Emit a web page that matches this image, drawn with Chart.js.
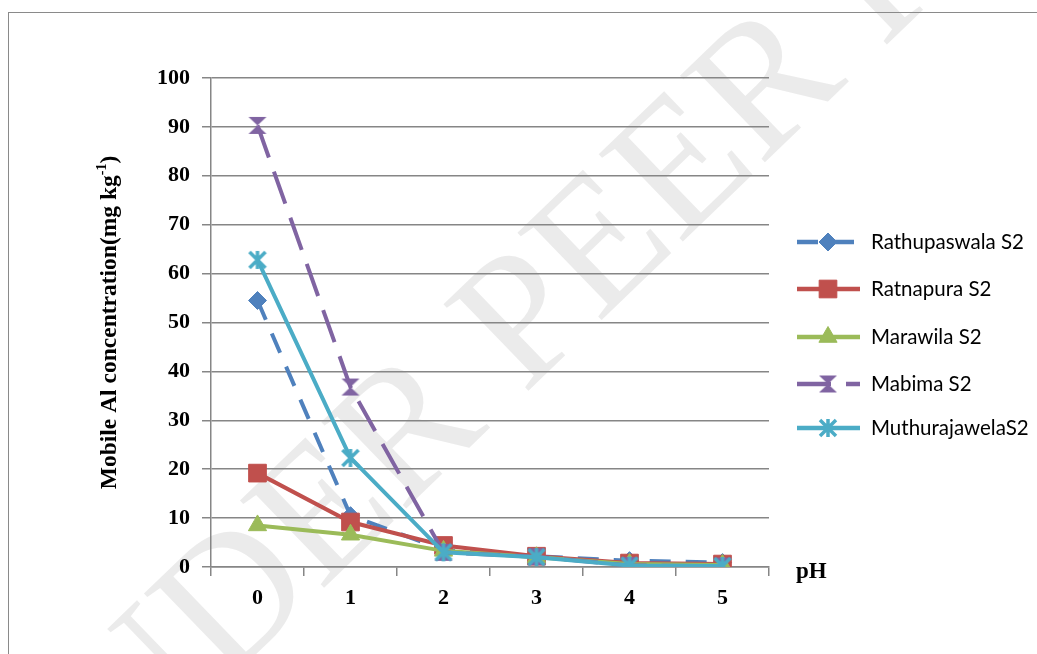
<!DOCTYPE html>
<html><head><meta charset="utf-8">
<script src="https://cdn.jsdelivr.net/npm/chart.js@4/dist/chart.umd.min.js"></script>
<style>
html,body{margin:0;padding:0;background:#fff;overflow:hidden;width:1037px;height:654px;}
#wrap{position:absolute;left:0;top:0;width:1037px;height:654px;}
#frame{position:absolute;left:8px;top:12px;width:1100px;height:700px;border:1.5px solid #8a8a8a;pointer-events:none;z-index:2;}
</style></head><body>
<div id="wrap"><canvas id="c" width="1037" height="654"></canvas></div>
<div id="frame"></div>
<script>
// ---- data ----
const categories = ['0', '1', '2', '3', '4', '5'];
const seriesNames = ['Rathupaswala S2', 'Ratnapura S2', 'Marawila S2', 'Mabima S2', 'MuthurajawelaS2'];
const rathupaswala = [54.5, 10.5, 3.5, 2.2, 1.3, 0.9];
const ratnapura = [19.2, 9.2, 4.4, 2.2, 0.8, 0.6];
const marawila = [8.5, 6.6, 3.3, 2.0, 0.6, 0.4];
const mabima = [90.3, 36.8, 3.0, 2.1, 0.3, 0.2];
const muthurajawela = [62.8, 22.3, 3.0, 2.0, 0.3, 0.2];
const yMin = 0, yMax = 100, yStep = 10;
const yTitle = 'Mobile Al concentration(mg kg';
const yTitleSup = '-1';
const yTitleEnd = ')';
const xTitle = 'pH';
const watermark = 'UNDER PEER REVIEW';

const COLORS = ['#4F81BD', '#C0504D', '#9BBB59', '#8064A2', '#4BACC6'];

function makeHourglass(color) {
  const c = document.createElement('canvas'); c.width = 20; c.height = 19;
  const g = c.getContext('2d'); g.fillStyle = color;
  g.beginPath(); g.moveTo(1, 1); g.lineTo(19, 1); g.lineTo(10, 9.5); g.closePath(); g.fill();
  g.beginPath(); g.moveTo(1, 18); g.lineTo(19, 18); g.lineTo(10, 9.5); g.closePath(); g.fill();
  return c;
}
function makeAsterisk(color) {
  const c = document.createElement('canvas'); c.width = 20; c.height = 20;
  const g = c.getContext('2d'); g.strokeStyle = color; g.lineWidth = 3.5; g.lineCap = 'butt';
  g.beginPath(); g.moveTo(2, 2); g.lineTo(18, 18); g.moveTo(18, 2); g.lineTo(2, 18);
  g.moveTo(10, 1); g.lineTo(10, 19); g.stroke();
  return c;
}
const hourglass = makeHourglass(COLORS[3]);
const asterisk = makeAsterisk(COLORS[4]);

const seriesData = [rathupaswala, ratnapura, marawila, mabima, muthurajawela];
const styles = [
  { dash: [21, 15], point: 'rectRot', r: 9 },
  { dash: [], point: 'rect', r: 12.5 },
  { dash: [], point: 'triangle', r: 10.5 },
  { dash: [34, 15], point: hourglass, r: 10 },
  { dash: [], point: asterisk, r: 10 }
];

const datasets = seriesNames.map((name, i) => ({
  label: name,
  data: seriesData[i],
  borderColor: COLORS[i],
  backgroundColor: COLORS[i],
  borderWidth: 4,
  borderDash: styles[i].dash,
  pointStyle: styles[i].point,
  pointRadius: styles[i].r,
  pointBorderWidth: 1,
  pointBorderColor: COLORS[i],
  pointBackgroundColor: COLORS[i],
  tension: 0,
  order: 5 - i
}));

const serifBold = (s) => ({ family: '"Liberation Serif", "Times New Roman", serif', size: s, weight: 'bold' });

const extras = {
  id: 'extras',
  beforeDraw(chart) {
    const ctx = chart.ctx;
    ctx.save();
    ctx.translate(32, 870);
    ctx.rotate(-44 * Math.PI / 180);
    ctx.font = '185px "Liberation Serif", serif';
    ctx.fillStyle = 'rgba(205,205,205,0.4)';
    ctx.textBaseline = 'alphabetic';
    ctx.fillText(watermark, 0, 0);
    ctx.restore();
  },
  afterDraw(chart) {
    const ctx = chart.ctx;
    const area = chart.chartArea;
    // y title with superscript
    ctx.save();
    ctx.fillStyle = '#000';
    const mainFont = 'bold 23.5px "Liberation Serif", serif';
    const supFont = 'bold 14px "Liberation Serif", serif';
    ctx.font = mainFont; const w1 = ctx.measureText(yTitle).width; const w3 = ctx.measureText(yTitleEnd).width;
    ctx.font = supFont; const w2 = ctx.measureText(yTitleSup).width;
    const total = w1 + w2 + w3;
    ctx.translate(109, (area.top + area.bottom) / 2);
    ctx.rotate(-Math.PI / 2);
    ctx.textBaseline = 'middle'; ctx.textAlign = 'left';
    let x = -total / 2;
    ctx.font = mainFont; ctx.fillText(yTitle, x, 1); x += w1;
    ctx.font = supFont; ctx.fillText(yTitleSup, x, -7); x += w2;
    ctx.font = mainFont; ctx.fillText(yTitleEnd, x, 1);
    ctx.restore();
    // x title
    ctx.save();
    ctx.fillStyle = '#000';
    ctx.font = 'bold 23px "Liberation Serif", serif';
    ctx.textBaseline = 'middle'; ctx.textAlign = 'left';
    ctx.fillText(xTitle, area.right + 27, area.bottom + 5);
    ctx.restore();
    // legend
    const ys = [242, 289, 337, 384, 428];
    chart.data.datasets.forEach((ds, i) => {
      const y = ys[i];
      ctx.save();
      ctx.strokeStyle = ds.borderColor; ctx.lineWidth = 4.5;
      ctx.setLineDash(ds.borderDash || []);
      ctx.beginPath(); ctx.moveTo(797, y); ctx.lineTo(860, y); ctx.stroke();
      ctx.setLineDash([]);
      ctx.fillStyle = ds.borderColor; ctx.strokeStyle = ds.borderColor; ctx.lineWidth = 1;
      Chart.helpers.drawPoint(ctx, { pointStyle: ds.pointStyle, rotation: 0, radius: ds.pointRadius, borderWidth: 1 }, 828, y);
      ctx.restore();
      ctx.save();
      ctx.fillStyle = '#000';
      ctx.font = '20.5px Lato, "Open Sans", sans-serif';
      ctx.textBaseline = 'middle'; ctx.textAlign = 'left';
      ctx.fillText(ds.label, 871, y);
      ctx.restore();
    });
  }
};

new Chart(document.getElementById('c'), {
  type: 'line',
  data: { labels: categories, datasets },
  plugins: [extras],
  options: {
    responsive: false,
    animation: false,
    devicePixelRatio: 1,
    layout: { padding: { left: 0, right: 268, top: 78, bottom: 0 } },
    plugins: { legend: { display: false }, tooltip: { enabled: false } },
    elements: { line: { borderCapStyle: 'butt' } },
    scales: {
      x: {
        type: 'category', offset: true,
        grid: { offset: true, drawOnChartArea: false, drawTicks: true, tickLength: 9, color: '#868686', lineWidth: 1.5 },
        border: { display: true, color: '#868686', width: 1.5 },
        ticks: { font: serifBold(22), color: '#000', padding: 9, maxRotation: 0 },
        afterFit: (s) => { s.height = 87; }
      },
      y: {
        min: yMin, max: yMax,
        grid: { color: '#868686', lineWidth: 1.5, tickLength: 9 },
        border: { display: true, color: '#868686', width: 1.5 },
        ticks: { stepSize: yStep, font: serifBold(22), color: '#000', padding: 12 },
        afterFit: (s) => { s.width = 211; }
      }
    }
  }
});
</script>
</body></html>
